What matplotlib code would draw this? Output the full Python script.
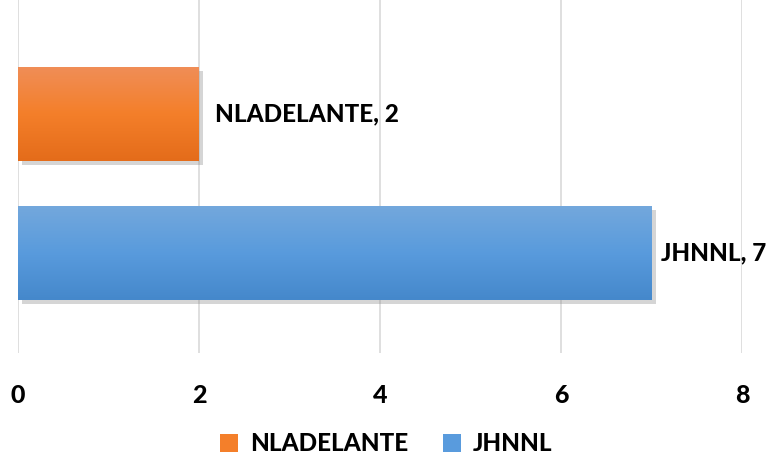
import numpy as np
import matplotlib.pyplot as plt
import matplotlib.patheffects as pe
from matplotlib.colors import LinearSegmentedColormap
from matplotlib.patches import Patch

categories = ['JHNNL', 'NLADELANTE']
values = [7, 2]
ticks = [0, 2, 4, 6, 8]
grad_colors = {
    'NLADELANTE': ['#F08E58', '#F47F2A', '#E46C1A'],
    'JHNNL': ['#74A8DC', '#599BDD', '#4588CB'],
}
legend_order = ['NLADELANTE', 'JHNNL']

plt.rcParams['font.family'] = ['Lato', 'DejaVu Sans']

fig = plt.figure(figsize=(7.73, 4.61), dpi=100)
ax = fig.add_axes([18 / 773, 108 / 461, 724 / 773, 353 / 461])

height = 0.68
ypos = np.arange(len(categories))
bars = ax.barh(ypos, values, height=height, color='none', zorder=3)

grad = np.linspace(0, 1, 256).reshape(-1, 1)
for bar, cat, val in zip(bars, categories, values):
    cmap = LinearSegmentedColormap.from_list(cat, grad_colors[cat])
    x0, y0 = bar.get_x(), bar.get_y()
    w, h = bar.get_width(), bar.get_height()
    # soft drop shadow under the bar
    sh = ax.barh(y0 + h / 2, w, height=h, color='white', alpha=0.0, zorder=2)[0]
    sh.set_path_effects([pe.SimplePatchShadow(offset=(3, -3), shadow_rgbFace='#888888', alpha=0.35)])
    im = ax.imshow(grad, cmap=cmap, aspect='auto', extent=[x0, x0 + w, y0, y0 + h],
                   origin='upper', zorder=3)
    im.set_clip_path(bar)
    ax.text(x0 + w + (0.18 if w < 5 else 0.1), y0 + h / 2, f'{cat}, {val}',
            va='center', ha='left', fontsize=17.5, fontweight='black', color='#000000')

ax.set_xlim(0, 8)
ax.set_ylim(-0.72, 1.82)
ax.set_xticks(ticks)
ax.set_xticklabels([str(t) for t in ticks], fontsize=18, fontweight='black')
ax.set_yticks([])
ax.tick_params(axis='x', length=0, pad=22)
ax.grid(axis='x', color='#D9D9D9', linewidth=1.2, zorder=0)
for s in ax.spines.values():
    s.set_visible(False)

handles = [Patch(facecolor=grad_colors[c][1], label=c) for c in legend_order]
fig.legend(handles=handles, loc='lower center', bbox_to_anchor=(0.5, -0.035), ncol=2,
           frameon=False, prop={'size': 17.5, 'weight': 'black'}, handlelength=0.75,
           handleheight=0.75, handletextpad=0.5, columnspacing=1.4)

fig.savefig('out.png', dpi=100)
